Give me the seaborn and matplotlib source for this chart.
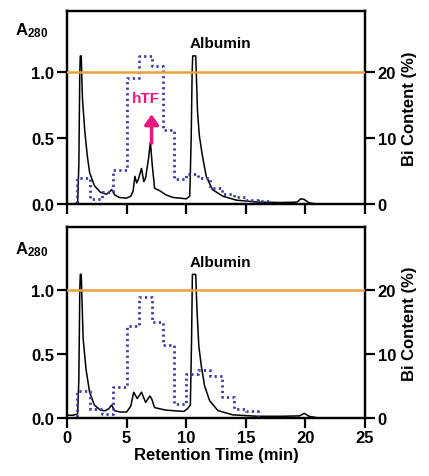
import matplotlib
matplotlib.use("Agg")
import matplotlib.pyplot as plt
import numpy as np
import pandas as pd
import seaborn as sns

# A280 chromatogram traces (retention time in min, absorbance)
top_time = [0, 0.5, 0.9, 1.0, 1.08, 1.12, 1.2, 1.3, 1.5, 1.7, 1.9, 2.3, 2.8,
            3.3, 3.55, 3.75, 4.0, 4.4, 5.0, 5.35, 5.55, 5.7, 5.85, 6.0, 6.25,
            6.45, 6.6, 6.85, 7.0, 7.15, 7.35, 7.8, 8.3, 8.9, 9.5, 10.0, 10.3,
            10.42, 10.5, 10.55, 10.8, 10.95, 11.1, 11.35, 11.68, 12.2, 13.07,
            14.2, 16.0, 18.0, 19.3, 19.6, 19.9, 20.3, 21.0]
top_a280 = [0.0, 0.0, 0.01, 0.3, 1.0, 1.12, 1.12, 0.8, 0.55, 0.37, 0.24, 0.14,
            0.09, 0.075, 0.09, 0.11, 0.07, 0.05, 0.045, 0.06, 0.1, 0.21, 0.16,
            0.19, 0.27, 0.17, 0.2, 0.35, 0.47, 0.3, 0.12, 0.1, 0.07, 0.05,
            0.045, 0.04, 0.06, 0.5, 1.0, 1.12, 1.12, 0.7, 0.52, 0.37, 0.21,
            0.11, 0.06, 0.03, 0.015, 0.012, 0.015, 0.04, 0.035, 0.01, 0.0]

bot_time = [0, 0.5, 0.9, 1.0, 1.08, 1.12, 1.2, 1.36, 1.6, 1.9, 2.3, 2.8, 3.2,
            3.5, 3.75, 4.0, 4.5, 5.0, 5.35, 5.6, 5.9, 6.25, 6.6, 6.95, 7.1,
            7.35, 7.8, 8.3, 9.0, 9.8, 10.1, 10.35, 10.45, 10.52, 10.8, 10.9,
            11.06, 11.26, 11.54, 11.96, 12.65, 13.9, 16.0, 18.0, 19.5, 19.9,
            20.3, 21.0]
bot_a280 = [0.02, 0.02, 0.03, 0.3, 1.0, 1.12, 1.12, 0.62, 0.38, 0.2, 0.1, 0.06,
            0.055, 0.07, 0.1, 0.055, 0.045, 0.045, 0.09, 0.2, 0.15, 0.2, 0.12,
            0.17, 0.15, 0.08, 0.07, 0.06, 0.055, 0.05, 0.07, 0.1, 0.6, 1.12,
            1.12, 0.85, 0.56, 0.41, 0.25, 0.135, 0.057, 0.023, 0.012, 0.012,
            0.015, 0.035, 0.012, 0.0]

# Bi content per fraction (step start times, %)
frac_start = [0, 0.85, 1.9, 2.9, 3.85, 5.0, 6.05, 7.1, 8.05, 9.0, 10.0, 11.0,
              12.0, 13.0, 14.0, 15.0, 16.0, 17.0]
top_bi = [0, 4.0, 0.8, 1.8, 5.2, 19.0, 22.4, 20.8, 11.2, 3.8, 4.6, 4.0, 2.4,
          1.6, 1.0, 0.6, 0.4, 0]
bot_bi = [0, 4.2, 1.4, 0.6, 4.8, 14.4, 18.8, 15.0, 11.4, 2.2, 6.8, 7.4, 6.6,
          3.2, 1.4, 1.0, 0, 0]

sns.set_theme(style="ticks")
plt.rcParams["font.family"] = ["Liberation Sans", "DejaVu Sans"]
plt.rcParams["font.weight"] = "bold"
plt.rcParams["text.color"] = "black"
plt.rcParams["axes.labelcolor"] = "black"
plt.rcParams["xtick.color"] = "black"
plt.rcParams["ytick.color"] = "black"
plt.rcParams["mathtext.fontset"] = "custom"
plt.rcParams["mathtext.bf"] = "Liberation Sans:bold"
plt.rcParams["mathtext.rm"] = "Liberation Sans:bold"

fig = plt.figure(figsize=(4.29, 4.77), dpi=100)
ax_top = fig.add_axes([0.156, 0.570, 0.695, 0.405])
ax_bot = fig.add_axes([0.156, 0.122, 0.695, 0.400])

panels = [
    (ax_top, top_time, top_a280, top_bi, 1.46, 0.935),
    (ax_bot, bot_time, bot_a280, bot_bi, 1.49, 0.476),
]

for ax, t, a, bi, ytop, label_y in panels:
    trace = pd.DataFrame({"time": t, "a280": a})
    sns.lineplot(data=trace, x="time", y="a280", ax=ax, color="black",
                 linewidth=1.1, sort=False, estimator=None)
    ax.set_xlim(0, 25)
    ax.set_ylim(0, ytop)
    ax.set_xticks([0, 5, 10, 15, 20, 25])
    ax.set_yticks([0, 0.5, 1.0])
    ax.set_yticklabels(["0.0", "0.5", "1.0"])
    ax.set_xlabel("")
    ax.set_ylabel("")
    ax.text(10.3, 1.22, "Albumin", fontsize=11, fontweight="bold",
            color="black", va="center", ha="left")

    ax2 = ax.twinx()
    steps = pd.DataFrame({"time": frac_start, "bi": bi})
    sns.lineplot(data=steps, x="time", y="bi", ax=ax2, color="#3b3ba6",
                 linewidth=2.0, linestyle=(0, (0.8, 1.2)), sort=False,
                 estimator=None, drawstyle="steps-post")
    ax2.axhline(20, color="#eba03c", linewidth=1.8, zorder=5)
    ax2.set_ylim(0, ytop * 20)
    ax2.set_yticks([0, 10, 20])
    ax2.set_ylabel("Bi Content (%)", fontsize=12, fontweight="bold",
                   labelpad=4)
    ax2.set_xlabel("")

    for axis in (ax, ax2):
        for side in axis.spines.values():
            side.set_linewidth(1.6)
            side.set_color("black")
        axis.tick_params(direction="out", length=7, width=1.6,
                         labelsize=12, pad=2, colors="black")
    fig.text(0.035, label_y, r"$\mathbf{A_{280}}$", fontsize=12,
             va="center", ha="left")

ax_top.tick_params(axis="x", labelbottom=False)
for axis in fig.axes:
    for lbl in axis.get_xticklabels() + axis.get_yticklabels():
        lbl.set_fontweight("bold")
ax_bot.set_xlabel("Retention Time (min)", fontsize=12, fontweight="bold",
                  labelpad=1)

ax_top.annotate("", xy=(7.1, 0.70), xytext=(7.1, 0.44),
                arrowprops=dict(arrowstyle="-|>,head_width=0.35,head_length=0.5",
                                color="#e6197f", lw=2.5))
ax_top.text(6.6, 0.80, "hTF", color="#e6197f", fontsize=11,
            fontweight="bold", ha="center", va="center")

fig.savefig("out.png", dpi=100)
